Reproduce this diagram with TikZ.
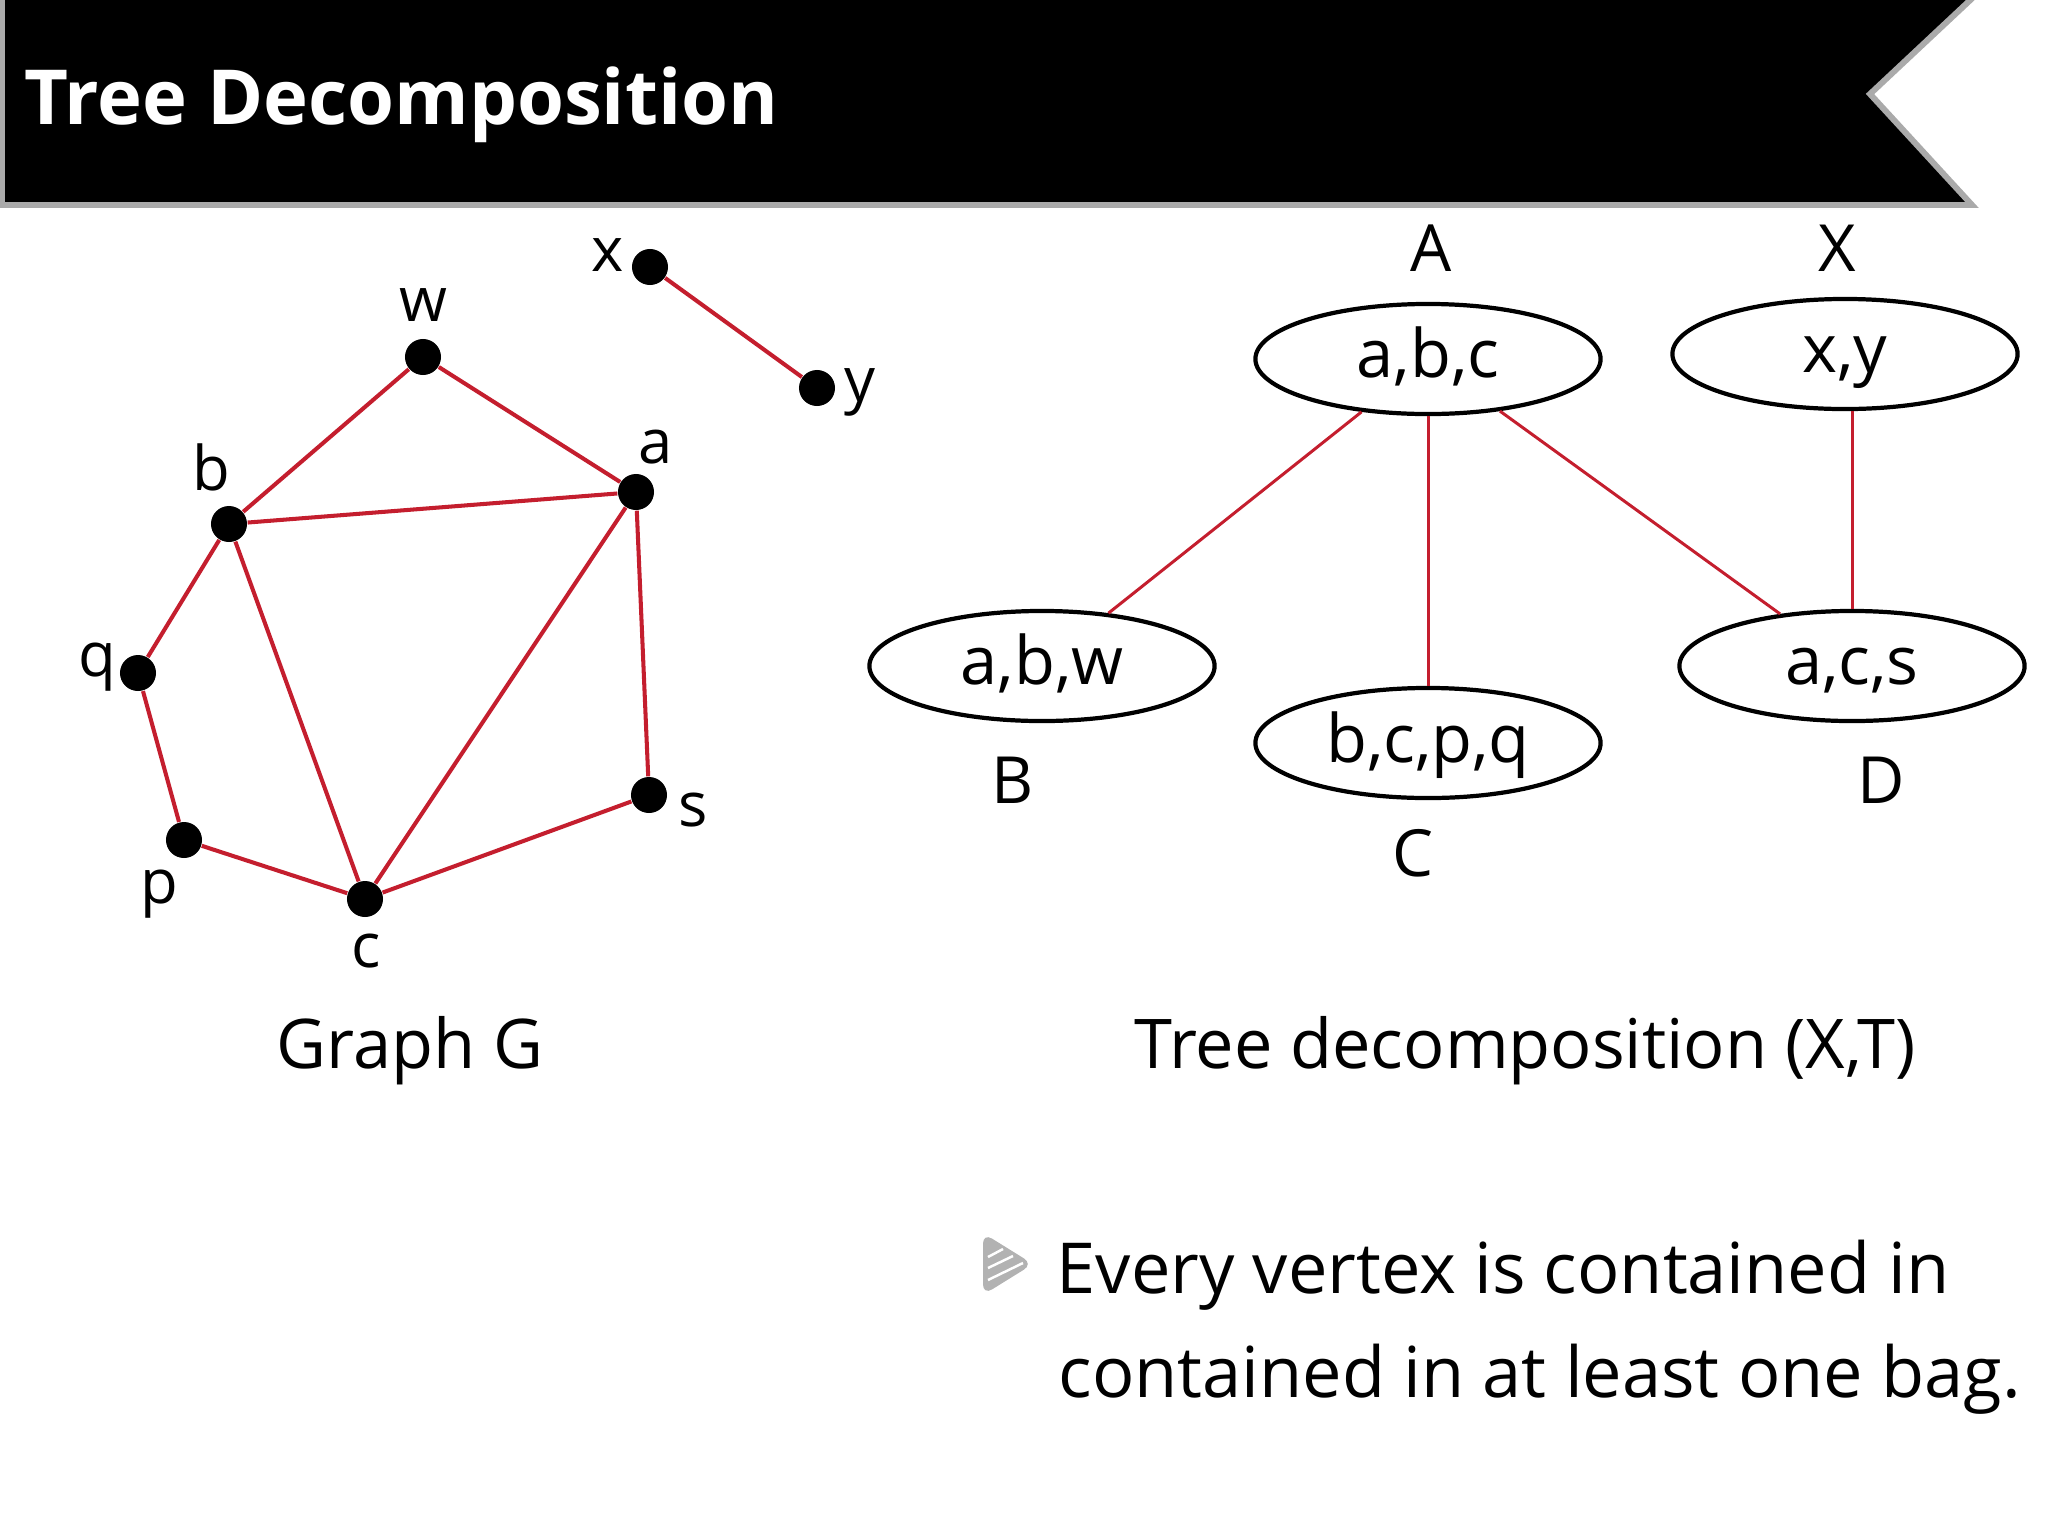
\documentclass[tikz,border=0pt]{standalone}
\usepackage{fontspec}
\setmainfont{Open Sans}
\usepackage{xcolor}
\usetikzlibrary{positioning,shapes.geometric}
\definecolor{edgered}{RGB}{196,30,46}
\definecolor{bannergray}{RGB}{170,170,170}

\begin{document}
\begin{tikzpicture}[x=0.01cm, y=-0.01cm,
  vertex/.style={circle, fill=black, inner sep=0pt, minimum size=0.36cm},
  vlabel/.style={inner sep=0pt, font=\fontsize{17.5}{20}\selectfont},
  gedge/.style={edgered, line width=1.15pt},
  bag/.style={draw, ellipse, line width=1.2pt, minimum width=3.45cm, minimum height=1.1cm, inner sep=0pt,
    text height=14pt, text depth=3.2pt, font=\fontsize{19}{22}\selectfont},
  baglabel/.style={inner sep=0pt, font=\fontsize{18.5}{22}\selectfont},
  tedge/.style={edgered, line width=0.85pt},
  caption/.style={inner sep=0pt, anchor=base, font=\fontsize{19.5}{23}\selectfont}]
\useasboundingbox (0,0) rectangle (2048,1536);

% banner
\draw[bannergray, line width=1.7pt, fill=black] (2,-10) -- (1981,-10) -- (1870,94) -- (1972,205) -- (2,205) -- cycle;
\node[anchor=base west, inner sep=0pt, text=white, font=\bfseries\fontsize{21.6}{26}\selectfont] (title) at (24,124) {Tree Decomposition};

% graph G
\node[vertex] (w) at (423,357) {};
\node[vertex] (b) at (229,524) {};
\node[vertex] (a) at (636,492) {};
\node[vertex] (q) at (138,673) {};
\node[vertex] (p) at (184,840) {};
\node[vertex] (c) at (365,899) {};
\node[vertex] (s) at (649,795) {};
\node[vertex] (x) at (650,267) {};
\node[vertex] (y) at (817,388) {};

\draw[gedge] (w) -- (b);
\draw[gedge] (w) -- (a);
\draw[gedge] (b) -- (a);
\draw[gedge] (b) -- (q);
\draw[gedge] (b) -- (c);
\draw[gedge] (a) -- (c);
\draw[gedge] (a) -- (s);
\draw[gedge] (q) -- (p);
\draw[gedge] (p) -- (c);
\draw[gedge] (c) -- (s);
\draw[gedge] (x) -- (y);

\node[vlabel] (w-label) at (423,305) {w};
\node[vlabel] (b-label) at (211,467) {b};
\node[vlabel] (a-label) at (656,447) {a};
\node[vlabel] (q-label) at (97,667) {q};
\node[vlabel] (p-label) at (159,894) {p};
\node[vlabel] (c-label) at (366,951) {c};
\node[vlabel] (s-label) at (693,810) {s};
\node[vlabel] (x-label) at (608,255) {x};
\node[vlabel] (y-label) at (860,392) {y};

% tree decomposition
\node[bag] (abc) at (1428,359) {a,b,c};
\node[bag] (xy) at (1845,354) {x,y};
\node[bag] (abw) at (1042,666) {a,b,w};
\node[bag] (bcpq) at (1428,743) {b,c,p,q};
\node[bag] (acs) at (1852,666) {a,c,s};

\draw[tedge] (abc) -- (abw);
\draw[tedge] (abc) -- (bcpq);
\draw[tedge] (abc) -- (acs);
\draw[tedge] (acs.north) -- (acs.north |- xy.south);

\node[baglabel] (A-label) at (1431,248) {A};
\node[baglabel] (X-label) at (1837,248) {X};
\node[baglabel] (B-label) at (1013,780) {B};
\node[baglabel] (C-label) at (1413,853) {C};
\node[baglabel] (D-label) at (1881,780) {D};

% captions
\node[caption] (graph-caption) at (410,1068) {Graph G};
\node[caption] (tree-caption) at (1525,1068) {Tree decomposition (X,T)};

% bullet
\fill[gray!60, rounded corners=3pt] (983,1233) -- (1033,1264) -- (983,1295) -- cycle;
\draw[white, line width=0.7pt] (988,1257) -- (1003,1249);
\draw[white, line width=0.7pt] (988,1268) -- (1013,1256);
\draw[white, line width=0.7pt] (988,1280) -- (1023,1263);

\node[caption, anchor=base west, font=\fontsize{20}{24}\selectfont] (bullet-line1) at (1056,1293) {Every vertex is contained in};
\node[caption, anchor=base west, font=\fontsize{20}{24}\selectfont] (bullet-line2) at (1058,1397) {contained in at least one bag.};

\end{tikzpicture}
\end{document}
